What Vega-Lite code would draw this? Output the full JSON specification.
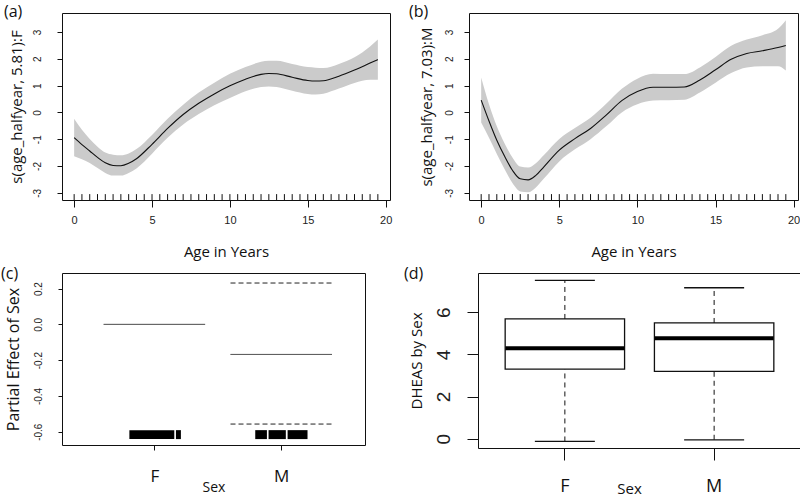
{
  "$schema": "https://vega.github.io/schema/vega-lite/v6.json",
  "background": "white",
  "padding": {"left": 0, "top": 3, "right": 0, "bottom": 0},
  "config": {
    "view": {"stroke": "#111", "strokeWidth": 1},
    "axis": {"grid": false, "domain": false, "tickColor": "#111", "labelColor": "#222", "titleColor": "#111", "titleFontWeight": "normal", "labelFont": "Liberation Sans", "titleFont": "Open Sans", "labelFontSize": 10, "labelOverlap": false, "labelFlush": false},
    "title": {"font": "Open Sans", "fontSize": 16, "fontWeight": "normal", "anchor": "start", "frame": "bounds", "color": "#111", "offset": -9}
  },
  "datasets": {
    "a": [
      {"age": 0, "fit": -0.94, "lo": -1.64, "hi": -0.24},
      {"age": 0.5, "fit": -1.2, "lo": -1.75, "hi": -0.65},
      {"age": 1, "fit": -1.44, "lo": -1.89, "hi": -0.99},
      {"age": 1.5, "fit": -1.68, "lo": -2.08, "hi": -1.28},
      {"age": 2, "fit": -1.88, "lo": -2.26, "hi": -1.5},
      {"age": 2.5, "fit": -1.98, "lo": -2.36, "hi": -1.58},
      {"age": 3, "fit": -1.99, "lo": -2.36, "hi": -1.6},
      {"age": 3.5, "fit": -1.9, "lo": -2.26, "hi": -1.53},
      {"age": 4, "fit": -1.73, "lo": -2.09, "hi": -1.37},
      {"age": 5, "fit": -1.19, "lo": -1.54, "hi": -0.84},
      {"age": 6, "fit": -0.6, "lo": -0.95, "hi": -0.24},
      {"age": 7, "fit": -0.08, "lo": -0.45, "hi": 0.29},
      {"age": 8, "fit": 0.34, "lo": -0.06, "hi": 0.74},
      {"age": 9, "fit": 0.69, "lo": 0.27, "hi": 1.11},
      {"age": 10, "fit": 0.99, "lo": 0.54, "hi": 1.44},
      {"age": 11, "fit": 1.24, "lo": 0.79, "hi": 1.69},
      {"age": 12, "fit": 1.42, "lo": 0.95, "hi": 1.89},
      {"age": 12.5, "fit": 1.45, "lo": 0.97, "hi": 1.93},
      {"age": 13, "fit": 1.44, "lo": 0.95, "hi": 1.93},
      {"age": 14, "fit": 1.31, "lo": 0.81, "hi": 1.81},
      {"age": 15, "fit": 1.19, "lo": 0.69, "hi": 1.69},
      {"age": 15.5, "fit": 1.17, "lo": 0.67, "hi": 1.67},
      {"age": 16, "fit": 1.18, "lo": 0.7, "hi": 1.66},
      {"age": 17, "fit": 1.35, "lo": 0.89, "hi": 1.81},
      {"age": 18, "fit": 1.58, "lo": 1.1, "hi": 2.06},
      {"age": 19, "fit": 1.84, "lo": 1.22, "hi": 2.46},
      {"age": 19.5, "fit": 1.97, "lo": 1.22, "hi": 2.72}
    ],
    "b": [
      {"age": 0, "fit": 0.46, "lo": -0.38, "hi": 1.3},
      {"age": 0.5, "fit": -0.32, "lo": -0.95, "hi": 0.3},
      {"age": 1, "fit": -1.04, "lo": -1.55, "hi": -0.52},
      {"age": 1.5, "fit": -1.64, "lo": -2.12, "hi": -1.16},
      {"age": 2, "fit": -2.16, "lo": -2.64, "hi": -1.68},
      {"age": 2.5, "fit": -2.48, "lo": -2.95, "hi": -2.02},
      {"age": 3, "fit": -2.52, "lo": -2.98, "hi": -2.06},
      {"age": 3.5, "fit": -2.35, "lo": -2.8, "hi": -1.9},
      {"age": 4, "fit": -2.04, "lo": -2.48, "hi": -1.6},
      {"age": 5, "fit": -1.41, "lo": -1.83, "hi": -0.99},
      {"age": 6, "fit": -0.98, "lo": -1.38, "hi": -0.58},
      {"age": 7, "fit": -0.6, "lo": -1.0, "hi": -0.2},
      {"age": 8, "fit": -0.1, "lo": -0.52, "hi": 0.32},
      {"age": 9, "fit": 0.44, "lo": 0.0, "hi": 0.88},
      {"age": 10, "fit": 0.78, "lo": 0.3, "hi": 1.26},
      {"age": 11, "fit": 0.94, "lo": 0.44, "hi": 1.44},
      {"age": 12, "fit": 0.94, "lo": 0.45, "hi": 1.43},
      {"age": 13, "fit": 0.95, "lo": 0.47, "hi": 1.43},
      {"age": 14, "fit": 1.21, "lo": 0.74, "hi": 1.68},
      {"age": 15, "fit": 1.59, "lo": 1.11, "hi": 2.07},
      {"age": 16, "fit": 1.98, "lo": 1.47, "hi": 2.49},
      {"age": 17, "fit": 2.2, "lo": 1.68, "hi": 2.72},
      {"age": 18, "fit": 2.3, "lo": 1.72, "hi": 2.88},
      {"age": 19, "fit": 2.42, "lo": 1.72, "hi": 3.12},
      {"age": 19.5, "fit": 2.5, "lo": 1.56, "hi": 3.44}
    ],
    "rug": [
      {"age": 0}, {"age": 0.5}, {"age": 1}, {"age": 1.5}, {"age": 2}, {"age": 2.5}, {"age": 3}, {"age": 3.5}, {"age": 4}, {"age": 4.5},
      {"age": 5}, {"age": 5.5}, {"age": 6}, {"age": 6.5}, {"age": 7}, {"age": 7.5}, {"age": 8}, {"age": 8.5}, {"age": 9}, {"age": 9.5},
      {"age": 10}, {"age": 10.5}, {"age": 11}, {"age": 11.5}, {"age": 12}, {"age": 12.5}, {"age": 13}, {"age": 13.5}, {"age": 14}, {"age": 14.5},
      {"age": 15}, {"age": 15.5}, {"age": 16}, {"age": 16.5}, {"age": 17}, {"age": 17.5}, {"age": 18}, {"age": 18.5}, {"age": 19}, {"age": 19.5}
    ],
    "c_lines": [
      {"sex": "F", "x1": 0.6, "x2": 1.4, "y": 0.0, "type": "fit"},
      {"sex": "M", "x1": 1.6, "x2": 2.4, "y": -0.168, "type": "fit"},
      {"sex": "M", "x1": 1.6, "x2": 2.4, "y": 0.231, "type": "ci"},
      {"sex": "M", "x1": 1.6, "x2": 2.4, "y": -0.557, "type": "ci"}
    ],
    "c_rug": [
      {"sex": "F", "x1": 0.803, "x2": 1.157},
      {"sex": "F", "x1": 1.17, "x2": 1.209},
      {"sex": "M", "x1": 1.795, "x2": 1.887},
      {"sex": "M", "x1": 1.9, "x2": 2.036},
      {"sex": "M", "x1": 2.05, "x2": 2.207}
    ],
    "d": [
      {"sex": "F", "lo": -0.13, "q1": 3.3, "med": 4.29, "q3": 5.68, "hi": 7.51},
      {"sex": "M", "lo": -0.05, "q1": 3.19, "med": 4.76, "q3": 5.49, "hi": 7.16}
    ]
  },
  "spacing": 5,
  "vconcat": [
    {
      "spacing": 15,
      "hconcat": [
        {
          "width": 328, "height": 187,
          "title": {"text": "(a)", "dx": -5, "offset": -7},
          "layer": [
            {"data": {"name": "a"}, "mark": {"type": "area", "color": "#cbcbcb", "interpolate": "monotone"},
             "encoding": {
               "x": {"field": "age", "type": "quantitative", "scale": {"domain": [-0.78, 20.28], "nice": false, "zero": false},
                     "axis": {"title": "Age in Years", "values": [0, 5, 10, 15, 20], "tickCount": 20, "tickSize": 7, "labelPadding": 7, "labelFontSize": 11, "titleFontSize": 15, "titlePadding": 19}},
               "y": {"field": "lo", "type": "quantitative", "scale": {"domain": [-3.27, 3.71], "nice": false, "zero": false},
                     "axis": {"title": "s(age_halfyear, 5.81):F", "values": [-3, -2, -1, 0, 1, 2, 3], "tickCount": 20, "labelOverlap": false, "labelAngle": 270, "labelAlign": "center", "labelBaseline": "middle", "labelPadding": 20, "tickSize": 5, "titleFontSize": 15, "titlePadding": 8,
                              "labelExpr": "datum.value < 0 ? '-' + abs(datum.value) : '' + datum.value"}},
               "y2": {"field": "hi"}
             }},
            {"data": {"name": "a"}, "mark": {"type": "line", "color": "#111", "strokeWidth": 1.1, "interpolate": "monotone"},
             "encoding": {"x": {"field": "age", "type": "quantitative"}, "y": {"field": "fit", "type": "quantitative"}}},
            {"data": {"name": "rug"}, "mark": {"type": "rule", "color": "#111"},
             "encoding": {"x": {"field": "age", "type": "quantitative"}, "y": {"datum": -3.27}, "y2": {"datum": -3.05}}}
          ]
        },
        {
          "width": 329, "height": 187,
          "title": {"text": "(b)", "dx": -10, "offset": -7},
          "layer": [
            {"data": {"name": "b"}, "mark": {"type": "area", "color": "#cbcbcb", "interpolate": "monotone"},
             "encoding": {
               "x": {"field": "age", "type": "quantitative", "scale": {"domain": [-0.78, 20.28], "nice": false, "zero": false},
                     "axis": {"title": "Age in Years", "values": [0, 5, 10, 15, 20], "tickCount": 20, "tickSize": 7, "labelPadding": 7, "labelFontSize": 11, "titleFontSize": 15, "titlePadding": 19}},
               "y": {"field": "lo", "type": "quantitative", "scale": {"domain": [-3.27, 3.71], "nice": false, "zero": false},
                     "axis": {"title": "s(age_halfyear, 7.03):M", "values": [-3, -2, -1, 0, 1, 2, 3], "tickCount": 20, "labelOverlap": false, "labelAngle": 270, "labelAlign": "center", "labelBaseline": "middle", "labelPadding": 15, "tickSize": 5, "titleFontSize": 15, "titlePadding": 10,
                              "labelExpr": "datum.value < 0 ? '-' + abs(datum.value) : '' + datum.value"}},
               "y2": {"field": "hi"}
             }},
            {"data": {"name": "b"}, "mark": {"type": "line", "color": "#111", "strokeWidth": 1.1, "interpolate": "monotone"},
             "encoding": {"x": {"field": "age", "type": "quantitative"}, "y": {"field": "fit", "type": "quantitative"}}},
            {"data": {"name": "rug"}, "mark": {"type": "rule", "color": "#111"},
             "encoding": {"x": {"field": "age", "type": "quantitative"}, "y": {"datum": -3.27}, "y2": {"datum": -3.05}}}
          ]
        }
      ]
    },
    {
      "spacing": 37,
      "hconcat": [
        {
          "width": 303, "height": 172,
          "title": {"text": "(c)", "dx": -4},
          "layer": [
            {"data": {"name": "c_lines"}, "mark": {"type": "rule", "color": "#222", "strokeWidth": 1},
             "encoding": {
               "x": {"field": "x1", "type": "quantitative", "scale": {"domain": [0.272, 2.66], "nice": false, "zero": false},
                     "axis": {"title": "Sex", "values": [1, 2], "tickCount": 20, "labelExpr": "datum.value == 1 ? 'F' : 'M'", "labelFont": "Open Sans", "labelFontSize": 17, "labelColor": "#111", "tickSize": 5, "labelPadding": 18, "titleFontSize": 14, "titlePadding": -4}},
               "x2": {"field": "x2"},
               "y": {"field": "y", "type": "quantitative", "scale": {"domain": [-0.674, 0.287], "nice": false, "zero": false},
                     "axis": {"title": "Partial Effect of Sex", "values": [0.2, 0, -0.2, -0.4, -0.6], "tickCount": 20, "zindex": 2, "labelOverlap": false, "labelAngle": 270, "labelAlign": "center", "labelBaseline": "middle", "labelPadding": 20, "tickSize": 4, "titleFontSize": 16, "titlePadding": 12,
                              "labelExpr": "datum.value < -0.5 ? '-0.6' : datum.value < -0.3 ? '-0.4' : datum.value < -0.1 ? '-0.2' : datum.value < 0.1 ? '0.0' : '0.2'"}},
               "strokeDash": {"field": "type", "type": "nominal", "scale": {"domain": ["fit", "ci"], "range": [[1, 0], [5, 3]]}, "legend": null}
             }},
            {"data": {"name": "c_rug"}, "mark": {"type": "rect", "color": "#000"},
             "encoding": {"x": {"field": "x1", "type": "quantitative"}, "x2": {"field": "x2"}, "y": {"datum": -0.591}, "y2": {"datum": -0.641}}}
          ]
        },
        {
          "width": 323, "height": 175,
          "title": {"text": "(d)", "dx": -5},
          "encoding": {
            "x": {"field": "sex", "type": "nominal", "scale": {"domain": ["F", "M"], "paddingInner": 0.2, "paddingOuter": 0.182},
                  "axis": {"title": "Sex", "labelAngle": 0, "labelFont": "Open Sans", "labelFontSize": 18, "labelColor": "#111", "tickSize": 12, "labelPadding": 17, "titleFontSize": 15, "titlePadding": -14, "titleX": 151}}
          },
          "layer": [
            {"data": {"name": "d"}, "mark": {"type": "rule", "color": "#111", "strokeDash": [5, 4]},
             "encoding": {"y": {"field": "q3", "type": "quantitative", "scale": {"domain": [-0.44, 7.86], "nice": false, "zero": false},
                     "axis": {"title": "DHEAS  by Sex", "values": [0, 2, 4, 6], "format": "d", "tickCount": 20, "labelOverlap": false, "labelAngle": 270, "labelAlign": "center", "labelBaseline": "middle", "labelFontSize": 19, "labelPadding": 24, "tickSize": 11, "titleFontSize": 15, "titlePadding": 10}},
                          "y2": {"field": "hi"}}},
            {"data": {"name": "d"}, "mark": {"type": "rule", "color": "#111", "strokeDash": [5, 4]},
             "encoding": {"y": {"field": "lo", "type": "quantitative"}, "y2": {"field": "q1"}}},
            {"data": {"name": "d"}, "mark": {"type": "bar", "fill": "white", "stroke": "#111", "strokeWidth": 1.3},
             "encoding": {"y": {"field": "q1", "type": "quantitative"}, "y2": {"field": "q3"}}},
            {"data": {"name": "d"}, "mark": {"type": "tick", "color": "#000", "opacity": 1, "thickness": 4, "size": 119, "orient": "horizontal"},
             "encoding": {"y": {"field": "med", "type": "quantitative"}}},
            {"data": {"name": "d"}, "mark": {"type": "tick", "color": "#111", "opacity": 1, "thickness": 1.3, "size": 60, "orient": "horizontal"},
             "encoding": {"y": {"field": "hi", "type": "quantitative"}}},
            {"data": {"name": "d"}, "mark": {"type": "tick", "color": "#111", "opacity": 1, "thickness": 1.3, "size": 60, "orient": "horizontal"},
             "encoding": {"y": {"field": "lo", "type": "quantitative"}}}
          ]
        }
      ]
    }
  ]
}
